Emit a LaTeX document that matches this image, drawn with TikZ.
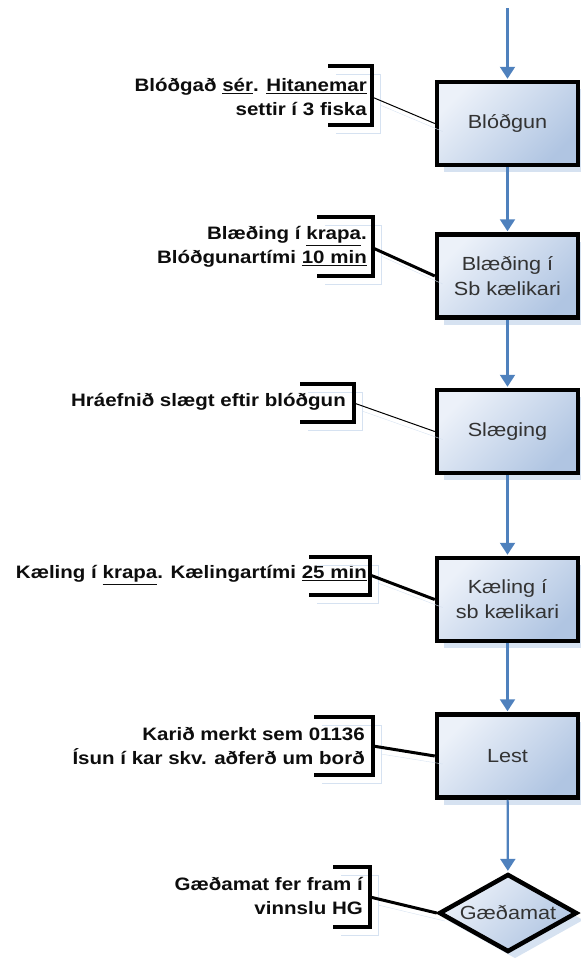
\documentclass[tikz,border=0pt]{standalone}
\usepackage{fontspec}
\setmainfont{Liberation Sans}[FakeStretch=1.14]
\usetikzlibrary{arrows.meta,shapes.geometric,shadows}
\definecolor{flowblue}{RGB}{79,129,189}
\definecolor{boxlight}{RGB}{236,241,249}
\definecolor{boxdark}{RGB}{176,197,226}
\definecolor{shadowblue}{RGB}{214,226,241}
\tikzset{
    stepbox/.style={draw=black, line width=4.5pt, minimum width=141pt, minimum height=83pt,
        top color=boxlight, bottom color=boxdark, shading angle=45,
        align=center, text=black!80, font=\fontsize{19}{25}\selectfont,
        drop shadow={shadow xshift=7pt, shadow yshift=-7pt, fill=shadowblue, opacity=1}},
    decision/.style={stepbox, diamond, aspect=1.7, minimum width=138pt, minimum height=78pt, inner sep=0pt},
    note/.style={anchor=east, align=right, inner sep=0pt, text=black!95,
        font=\bfseries\fontsize{18}{24}\selectfont},
    shadowed/.style={preaction={draw=shadowblue, transform canvas={shift={(8pt,-8pt)}}}},
    bracket/.style={shadowed, draw=black, line width=3.6pt},
    link/.style={shadowed, draw=black, line width=1pt},
    boldlink/.style={shadowed, draw=black, line width=3pt},
    flow/.style={draw=flowblue, line width=2.2pt, shorten >=1pt, -{Triangle[width=15pt,length=12pt]}},
}

\begin{document}
\begin{tikzpicture}[x=1pt, y=-1pt]
    \useasboundingbox (0,0) rectangle (581,959);

    % process steps
    \node[stepbox] (blodgun) at (507.5,123.5) {Blóðgun};
    \node[stepbox] (blaeding) at (507.5,276) {Blæðing í\\Sb kælikari};
    \node[stepbox] (slaeging) at (507.5,431.5) {Slæging};
    \node[stepbox] (kaeling) at (507.5,599.5) {Kæling í\\sb kælikari};
    \node[stepbox] (lest) at (507.5,756) {Lest};
    \node[decision] (gaedamat) at (508,913) {Gæðamat};

    \coordinate (start) at (507.5,8);
    \draw[flow] (start) -- (blodgun.north);
    \draw[flow] (blodgun) -- (blaeding);
    \draw[flow] (blaeding) -- (slaeging);
    \draw[flow] (slaeging) -- (kaeling);
    \draw[flow] (kaeling) -- (lest);
    \draw[flow] (lest) -- (gaedamat);

    % annotations
    \node[note] (n1) at (367,97) {Blóðgað \underline{sér}. \underline{Hitanemar}\\settir í 3 fiska};
    \coordinate (k1) at (372,97);
    \draw[bracket] (328,66) -- (372,66) -- (372,125) -- (328,125);
    \draw[link] (k1) -- (blodgun.west);

    \node[note] (n2) at (367,247) {Blæðing í \underline{krapa}.\\Blóðgunartími \underline{10 min}};
    \coordinate (k2) at (373,248);
    \draw[bracket] (317,217) -- (373,217) -- (373,276) -- (317,276);
    \draw[boldlink] (k2) -- (blaeding.west);

    \node[note] (n3) at (346,402) {Hráefnið slægt eftir blóðgun};
    \coordinate (k3) at (354,403);
    \draw[bracket] (300,384) -- (354,384) -- (354,422) -- (300,422);
    \draw[link] (k3) -- (slaeging.west);

    \node[note] (n4) at (367,575) {Kæling í \underline{krapa}. Kælingartími \underline{25 min}};
    \coordinate (k4) at (370,575);
    \draw[bracket] (309,557) -- (370,557) -- (370,595) -- (309,595);
    \draw[boldlink] (k4) -- (kaeling.west);

    \node[note] (n5) at (365,746) {Karið merkt sem 01136\\Ísun í kar skv. aðferð um borð};
    \coordinate (k5) at (373,746);
    \draw[bracket] (314,717) -- (373,717) -- (373,775) -- (314,775);
    \draw[boldlink] (k5) -- (lest.west);

    \node[note] (n6) at (363,896) {Gæðamat fer fram í\\vinnslu HG};
    \coordinate (k6) at (370,897);
    \draw[bracket] (333,867) -- (370,867) -- (370,927) -- (333,927);
    \draw[boldlink] (k6) -- (gaedamat.west);
\end{tikzpicture}
\end{document}
